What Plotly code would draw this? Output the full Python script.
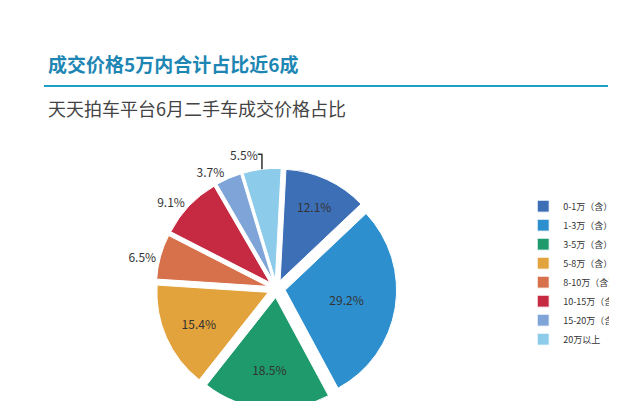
import plotly.graph_objects as go

categories = ["0-1万（含）", "1-3万（含）", "3-5万（含）", "5-8万（含）", "8-10万（含）", "10-15万（含）", "15-20万（含）", "20万以上"]
values = [12.1, 29.2, 18.5, 15.4, 6.5, 9.1, 3.7, 5.5]
colors = ["#3d6fb6", "#2e8fcf", "#1e9a6c", "#e2a23c", "#d6714c", "#c52a42", "#7fa5d8", "#8ccbea"]

W, H = 617, 401
fig = go.Figure(go.Pie(
    labels=categories, values=values, sort=False, direction="clockwise", rotation=3,
    marker=dict(colors=colors, line=dict(color="white", width=1)),
    pull=[0.08]*8, texttemplate="%{value:.1f}%",
    textposition=["inside"]*4+["outside"]*4,
    textfont=dict(size=12, color="#333"),
    domain=dict(x=[0.05, 0.82], y=[0.0, 0.6]),
))
fig.update_layout(
    width=W, height=H, paper_bgcolor="white", plot_bgcolor="white",
    margin=dict(l=0, r=0, t=0, b=0, autoexpand=False),
    font=dict(family="Noto Sans CJK SC"),
    legend=dict(x=0.835, y=0.34, yanchor="middle", font=dict(size=9, color="#333"), tracegroupgap=0),
    annotations=[
        dict(text="<b>成交价格5万内合计占比近6成</b>", x=38/W, y=(H-55)/H, xref="paper", yref="paper", showarrow=False,
             font=dict(size=19, color="#1e86b3"), xanchor="left", yanchor="middle"),
        dict(text="天天拍车平台6月二手车成交价格占比", x=38/W, y=(H-100)/H, xref="paper", yref="paper", showarrow=False,
             font=dict(size=18, color="#444"), xanchor="left", yanchor="middle"),
    ],
    shapes=[dict(type="line", xref="paper", yref="paper", x0=36/W, x1=600/W, y0=(H-78)/H, y1=(H-78)/H,
                 line=dict(color="#1e9fc8", width=2))],
)
fig.write_html("out.html")
